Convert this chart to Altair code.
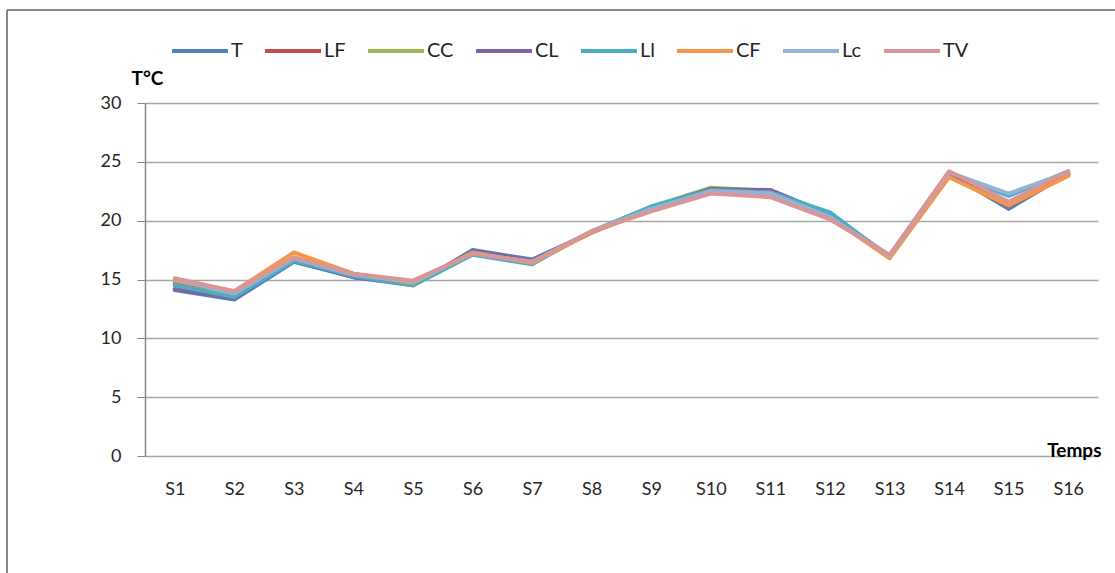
import altair as alt
import pandas as pd

# Weekly temperature readings (°C) for each site
weeks = ["S1", "S2", "S3", "S4", "S5", "S6", "S7", "S8",
         "S9", "S10", "S11", "S12", "S13", "S14", "S15", "S16"]

series_names = ["T", "LF", "CC", "CL", "Ll", "CF", "Lc", "TV"]
series_colors = ["#4F81BD", "#C0504D", "#9BBB59", "#8064A2",
                 "#4BACC6", "#F79646", "#95B3D7", "#D99694"]

T  = [14.1, 13.3, 16.5, 15.2, 14.5, 17.5, 16.7, 19.0, 21.0, 22.6, 22.6, 20.5, 17.0, 24.0, 21.0, 24.0]
LF = [14.7, 13.8, 16.7, 15.3, 14.6, 17.3, 16.5, 19.0, 21.1, 22.7, 22.5, 20.4, 16.9, 23.9, 21.3, 23.9]
CC = [14.5, 13.6, 16.6, 15.3, 14.6, 17.3, 16.5, 19.1, 21.2, 22.8, 22.5, 20.5, 16.9, 23.9, 21.4, 24.0]
CL = [14.2, 13.4, 16.6, 15.2, 14.6, 17.4, 16.6, 19.0, 21.1, 22.7, 22.6, 20.5, 17.0, 24.0, 21.2, 24.0]
Ll = [14.5, 13.5, 16.6, 15.3, 14.5, 17.1, 16.3, 19.1, 21.2, 22.6, 22.4, 20.7, 16.9, 24.1, 22.1, 24.2]
CF = [14.9, 14.0, 17.3, 15.5, 14.7, 17.3, 16.4, 19.0, 20.9, 22.5, 22.3, 20.3, 16.8, 23.7, 21.3, 23.8]
Lc = [15.0, 13.8, 16.8, 15.4, 14.8, 17.2, 16.5, 19.1, 21.0, 22.5, 22.3, 20.3, 17.0, 24.1, 22.3, 24.1]
TV = [15.1, 14.0, 16.9, 15.5, 14.9, 17.2, 16.5, 19.1, 20.8, 22.3, 22.0, 20.1, 17.1, 24.2, 21.6, 24.2]

values = {"T": T, "LF": LF, "CC": CC, "CL": CL, "Ll": Ll, "CF": CF, "Lc": Lc, "TV": TV}

rows = []
for name in series_names:
    for wk, v in zip(weeks, values[name]):
        rows.append({"semaine": wk, "serie": name, "temp": v})
df = pd.DataFrame(rows)

FONT = "Lato"
GRID = "#A6A6A6"

x_enc = alt.X(
    "semaine:N",
    sort=weeks,
    scale=alt.Scale(type="point", padding=0.5),
    axis=alt.Axis(
        title="Temps", titleX=956, titleY=-6, titleAlign="right",
        titleBaseline="middle", titleFontWeight="bold", titleFontSize=19,
        titleColor="#000000", titleFont=FONT,
        labelAngle=0, labelFontSize=18, labelColor="#262626", labelFont=FONT,
        labelPadding=24, ticks=False, domain=False, grid=False,
    ),
)
y_enc = alt.Y(
    "temp:Q",
    scale=alt.Scale(domain=[0, 30], nice=False, zero=True),
    axis=alt.Axis(
        values=[0, 5, 10, 15, 20, 25, 30],
        title="T°C", titleAngle=0, titleX=2, titleY=-25, titleAlign="center",
        titleBaseline="middle", titleFontWeight="bold", titleFontSize=19,
        titleColor="#000000", titleFont=FONT,
        labelFontSize=18, labelColor="#262626", labelFont=FONT, labelPadding=16,
        tickSize=8, tickColor="#868686", domainColor="#868686", domainWidth=1.5,
        grid=True, gridColor=GRID, gridWidth=1.3,
    ),
)
color_enc = alt.Color(
    "serie:N",
    sort=series_names,
    scale=alt.Scale(domain=series_names, range=series_colors),
    legend=alt.Legend(
        title=None, orient="none", legendX=25, legendY=-82,
        direction="horizontal", symbolType="stroke", symbolSize=3136,
        symbolStrokeWidth=4, labelFontSize=20, labelFont=FONT,
        labelColor="#262626", labelOffset=1, columnPadding=14, padding=0,
    ),
)

# One layer per series so the later series are drawn on top
layers = []
for name in series_names:
    layers.append(
        alt.Chart(df)
        .transform_filter(alt.datum.serie == name)
        .mark_line(strokeWidth=4, strokeJoin="round", strokeCap="round")
        .encode(x=x_enc, y=y_enc, color=color_enc)
    )

# Outer frame of the chart area (left and top edges)
frame_df = pd.DataFrame({"k": [0]})
frame_left = alt.Chart(frame_df).mark_rule(color="#868686", strokeWidth=2).encode(
    x=alt.value(-138), y=alt.value(-93), y2=alt.value(470)
)
frame_top = alt.Chart(frame_df).mark_rule(color="#868686", strokeWidth=2).encode(
    x=alt.value(-138), x2=alt.value(975), y=alt.value(-93)
)

chart = (
    alt.layer(frame_left, frame_top, *layers)
    .properties(
        width=953, height=353,
        autosize=alt.AutoSizeParams(type="none"),
        padding={"left": 145, "top": 103, "right": 17, "bottom": 117},
        background="#FFFFFF",
    )
    .configure_view(stroke=None)
)

chart.save("out.html", embed_options={"renderer": "svg", "actions": False})
